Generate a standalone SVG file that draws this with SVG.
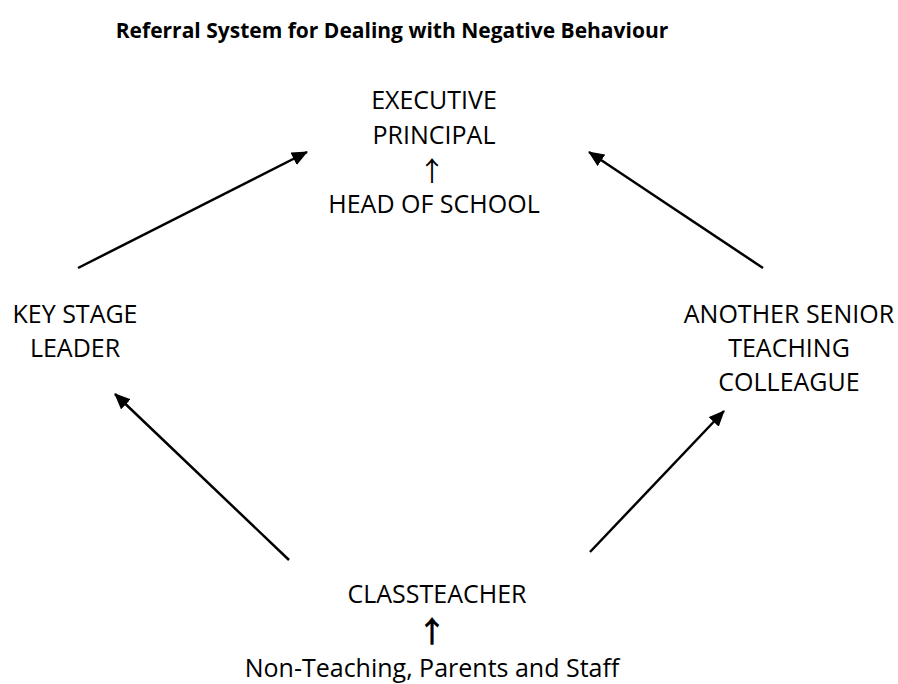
<svg xmlns="http://www.w3.org/2000/svg" width="898" height="684" viewBox="0 0 898 684">
<defs>
<marker id="ah" markerUnits="userSpaceOnUse" markerWidth="16" markerHeight="14" refX="15" refY="7" orient="auto">
<path d="M0,0 L16,7 L0,14 Z" fill="#000"/>
</marker>
<style>
.t{font-family:"Open Sans","Liberation Sans",sans-serif;font-size:25px;fill:#000;text-anchor:middle}
.h{font-family:"Open Sans","Liberation Sans",sans-serif;font-size:21px;font-weight:bold;fill:#000;text-anchor:middle}
.g{font-family:"Noto Sans CJK JP","DejaVu Sans",sans-serif;font-size:27px;font-weight:400;fill:#000;text-anchor:middle}
.gb{font-family:"Noto Sans CJK JP","DejaVu Sans",sans-serif;font-size:30px;font-weight:bold;fill:#000;text-anchor:middle}
.c{stroke:#000;stroke-width:2.5;fill:none;marker-end:url(#ah)}
</style>
</defs>
<rect width="898" height="684" fill="#fff"/>
<text class="h" x="392" y="38">Referral System for Dealing with Negative Behaviour</text>
<g id="executive">
<text class="t" x="434" y="109">EXECUTIVE</text>
<text class="t" x="434" y="144">PRINCIPAL</text>
<text class="g" x="432" y="181">↑</text>
<text class="t" x="434" y="213">HEAD OF SCHOOL</text>
</g>
<g id="keystage">
<text class="t" x="75" y="323">KEY STAGE</text>
<text class="t" x="75" y="357">LEADER</text>
</g>
<g id="senior">
<text class="t" x="789" y="323">ANOTHER SENIOR</text>
<text class="t" x="789" y="357">TEACHING</text>
<text class="t" x="789" y="391">COLLEAGUE</text>
</g>
<g id="classteacher">
<text class="t" x="437" y="603">CLASSTEACHER</text>
<text class="gb" x="432" y="642">↑</text>
<text class="t" x="432" y="677">Non-Teaching, Parents and Staff</text>
</g>
<g id="connectors">
<line class="c" x1="78" y1="268" x2="307" y2="152"/>
<line class="c" x1="763" y1="268" x2="589" y2="152"/>
<line class="c" x1="289" y1="560" x2="115" y2="394"/>
<line class="c" x1="590" y1="552" x2="724" y2="411"/>
</g>
</svg>
